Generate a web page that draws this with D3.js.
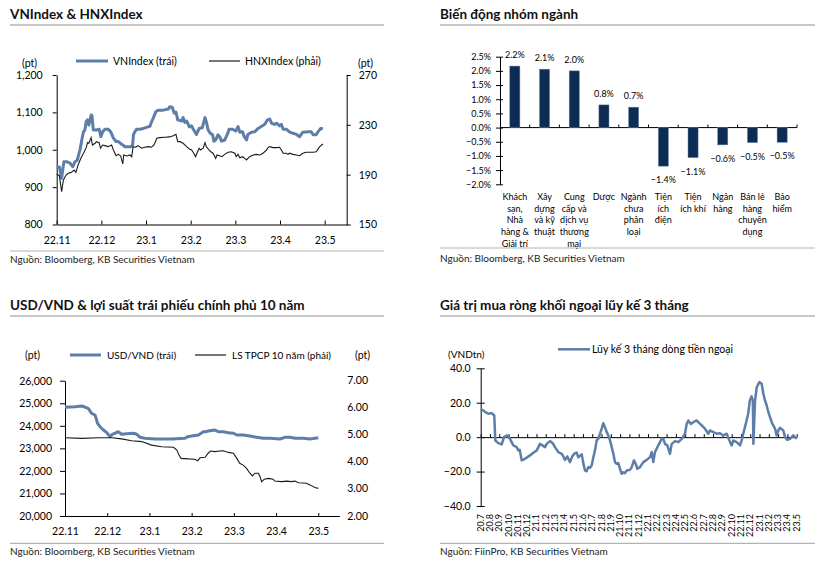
<!DOCTYPE html>
<html><head><meta charset="utf-8">
<script src="https://cdn.jsdelivr.net/npm/d3@7"></script>
<style>
body{margin:0;background:#fff;}
svg{display:block;font-family:Lato,"Liberation Sans",sans-serif;}
</style></head><body>
<svg id="c" width="815" height="562"></svg>
<script>
// ---------- DATA ----------
// Panel 1: VNIndex & HNXIndex (t = months since 22.11)
const p1Months = ["22.11","22.12","23.1","23.2","23.3","23.4","23.5"];
const vnT = [0.00,0.06,0.11,0.16,0.22,0.30,0.36,0.41,0.46,0.52,0.57,0.60,0.63,0.66,0.69,0.72,0.77,0.79,0.82,0.89,0.95,0.99,1.03,1.08,1.15,1.21,1.27,1.33,1.38,1.43,1.48,1.53,1.60,1.66,1.70,1.72,1.75,1.79,1.86,1.94,2.01,2.09,2.12,2.16,2.22,2.27,2.38,2.50,2.53,2.59,2.63,2.67,2.71,2.80,2.83,2.87,2.91,2.97,3.02,3.05,3.13,3.19,3.26,3.32,3.35,3.39,3.44,3.49,3.52,3.56,3.61,3.65,3.69,3.76,3.82,3.86,3.94,4.01,4.06,4.10,4.16,4.20,4.25,4.28,4.36,4.43,4.51,4.58,4.66,4.72,4.77,4.81,4.88,4.93,4.99,5.03,5.07,5.14,5.21,5.29,5.37,5.44,5.51,5.63,5.70,5.74,5.81,5.85,5.91,5.96];
const vnV = [954,954,924,968,968,964,955,968,972,999,1031,1048,1052,1075,1080,1066,1093,1091,1053,1053,1055,1035,1048,1055,1055,1048,1031,1022,1022,1017,1013,1008,1008,1008,1013,1041,1048,1055,1055,1057,1060,1063,1074,1084,1102,1106,1106,1109,1115,1113,1098,1101,1080,1077,1086,1073,1077,1061,1064,1057,1041,1057,1059,1086,1075,1053,1044,1040,1023,1026,1040,1035,1023,1026,1041,1055,1055,1050,1062,1047,1048,1035,1026,1041,1047,1048,1057,1062,1068,1080,1082,1071,1068,1071,1064,1068,1055,1055,1048,1044,1041,1035,1047,1048,1048,1040,1040,1048,1057,1056];
const hnxT = [0.00,0.06,0.11,0.15,0.21,0.26,0.33,0.39,0.43,0.48,0.54,0.60,0.66,0.69,0.72,0.77,0.80,0.86,0.89,0.95,0.98,1.03,1.08,1.15,1.23,1.27,1.33,1.38,1.43,1.48,1.50,1.57,1.64,1.68,1.71,1.77,1.82,1.90,1.97,2.05,2.12,2.18,2.24,2.31,2.42,2.53,2.61,2.67,2.71,2.76,2.83,2.91,2.97,3.02,3.07,3.11,3.14,3.19,3.22,3.28,3.32,3.35,3.41,3.45,3.50,3.56,3.59,3.65,3.70,3.76,3.84,3.91,3.99,4.02,4.06,4.10,4.16,4.21,4.25,4.32,4.40,4.47,4.55,4.62,4.70,4.73,4.77,4.84,4.92,4.99,5.03,5.07,5.14,5.18,5.21,5.29,5.37,5.44,5.51,5.59,5.66,5.74,5.81,5.89,5.96];
const hnxV = [190.3,189.2,176.3,185.7,189.7,191.1,191.9,193.7,191.9,197.8,203.1,207.2,211.7,215.7,215.2,219.7,213.8,215.2,216.5,215.7,211.2,213.8,213.3,212.5,213.8,209.8,205.2,206.3,205.2,198.6,205.8,205,205.8,204.4,212.5,212,213.3,211.2,212,212.5,212,213.8,219.2,219.7,220,220.3,221.3,222.4,216.5,216.5,215.2,212.5,210.6,209.8,207.2,204.4,207.2,211.2,209.8,211.2,215.7,212.5,209.8,208.4,207.2,203.1,205.8,205.2,204.4,206.3,208,208.4,207.2,204.4,206.3,203.6,204.4,203.1,201.8,204.4,205.8,206.3,205.8,207.2,209.8,211.7,212.5,211.7,211.7,212,209.8,207.2,207.2,206.3,207.2,206.3,205.8,205.2,207.2,208,208,208,208.4,212.5,214.6];
const vnTicks = [800,900,1000,1100,1200];
const hnxTicks = [150,190,230,270];

// Panel 2: sector performance
const sectors = [
  ["Khách","sạn,","Nhà","hàng &","Giải trí"],
  ["Xây","dựng","và kỹ","thuật"],
  ["Cung","cấp và","dịch vụ","thương","mại"],
  ["Dược"],
  ["Ngành","chưa","phân","loại"],
  ["Tiện","ích","điện"],
  ["Tiện","ích khí"],
  ["Ngân","hàng"],
  ["Bán lẻ","hàng","chuyên","dụng"],
  ["Bảo","hiểm"]
];
const sectorChange = [2.17,2.06,2.0,0.8,0.72,-1.36,-1.06,-0.61,-0.53,-0.52];
const sectorTicks = [-2.0,-1.5,-1.0,-0.5,0,0.5,1.0,1.5,2.0,2.5];

// Panel 3: USD/VND & 10Y gov bond yield
const p3Months = ["22.11","22.12","23.1","23.2","23.3","23.4","23.5"];
const usdT = [0.00,0.24,0.40,0.55,0.63,0.71,0.75,0.77,0.83,0.91,0.99,1.07,1.12,1.18,1.26,1.34,1.46,1.62,1.70,1.78,1.89,2.13,2.53,2.84,2.91,3.00,3.16,3.28,3.32,3.43,3.55,3.63,3.75,3.87,3.99,4.07,4.22,4.38,4.54,4.70,4.86,5.09,5.21,5.33,5.45,5.64,5.80,5.92,6.00];
const usdV = [24821,24848,24878,24776,24554,24480,24257,24111,23960,23814,23695,23517,23623,23668,23739,23623,23650,23668,23623,23490,23446,23415,23415,23446,23517,23550,23592,23739,23739,23783,23814,23739,23739,23695,23668,23592,23592,23548,23490,23446,23446,23415,23490,23490,23446,23446,23415,23446,23470];
const bondT = [0.00,0.40,0.79,1.11,1.34,1.58,1.82,2.05,2.29,2.57,2.65,2.70,2.75,2.92,3.08,3.14,3.20,3.32,3.39,3.45,3.55,3.67,3.75,3.87,3.99,4.07,4.14,4.22,4.30,4.38,4.44,4.50,4.58,4.62,4.66,4.72,4.82,4.93,4.97,5.13,5.25,5.37,5.45,5.53,5.72,5.80,5.92,6.00];
const bondV = [4.89,4.87,4.89,4.89,4.85,4.78,4.75,4.62,4.56,4.54,4.44,4.25,4.13,4.11,4.10,4.04,4.15,4.17,4.32,4.40,4.38,4.40,4.41,4.35,4.32,4.13,3.95,3.88,3.76,3.58,3.48,3.58,3.58,3.45,3.27,3.36,3.39,3.36,3.29,3.27,3.29,3.27,3.29,3.23,3.21,3.15,3.05,3.02];
const usdTicks = [20000,21000,22000,23000,24000,25000,26000];
const bondTicks = [2,3,4,5,6,7];

// Panel 4: 3-month cumulative foreign net buying (t = months since 20.7)
const p4Months = ["20.7","20.8","20.9","20.10","20.11","20.12","21.1","21.2","21.3","21.4","21.5","21.6","21.7","21.8","21.9","21.10","21.11","21.12","22.1","22.2","22.3","22.4","22.5","22.6","22.7","22.8","22.9","22.10","22.11","22.12","23.1","23.2","23.3","23.4","23.5"];
const flowT = [0.00,0.28,0.46,0.82,1.18,1.46,1.57,1.89,2.26,2.51,2.80,3.15,3.51,3.87,4.05,4.20,4.41,4.77,5.30,5.66,6.03,6.38,6.63,6.92,7.10,7.46,7.75,7.99,8.35,8.72,8.89,9.07,9.32,9.61,9.90,10.15,10.33,10.50,10.87,11.04,11.22,11.40,11.58,11.76,11.94,12.12,12.30,12.48,12.65,12.84,13.02,13.19,13.37,13.56,13.73,13.91,14.10,14.27,14.45,14.63,14.80,14.99,15.17,15.34,15.52,15.71,16.06,16.25,16.49,16.68,16.85,17.14,17.50,17.86,18.22,18.40,18.57,18.75,19.11,19.47,19.65,19.83,20.08,20.37,20.55,20.91,21.26,21.63,21.98,22.16,22.34,22.60,22.88,23.24,23.41,23.78,24.13,24.49,24.67,25.03,25.39,25.75,26.11,26.47,26.83,27.01,27.18,27.54,27.90,28.08,28.25,28.43,28.61,28.78,28.96,29.14,29.28,29.34,29.52,29.70,29.98,30.23,30.41,30.59,30.77,30.95,31.13,31.31,31.48,31.67,31.85,32.02,32.20,32.56,32.74,32.99,33.28,33.64,34.00];
const flowV = [16.5,15.5,14.7,13.6,14.0,12.6,-1.9,-3.5,-4.2,0,1,-1,-4.8,-5.8,-7.7,-7.4,-13.5,-12.6,-10.6,-9.1,-7.7,-3.9,-4.8,-5.8,-3.9,-2.3,-3.5,-5.8,-8.7,-9.7,-11.2,-13.2,-11.2,-14.5,-10.7,-9.3,-9.0,-11.7,-10.0,-15.1,-19.4,-19.8,-17.4,-17.8,-16.5,-11.7,-7.7,-1.9,-1,2,4.9,8.1,5.8,2.9,1,-1.9,-5.8,-9.7,-14.5,-15.5,-15.1,-18.4,-21.3,-20.4,-20.9,-19.4,-19,-17.4,-13.5,-15.5,-18.4,-17.4,-14.5,-13.2,-11.6,-8.7,-14.5,-8.7,-4.8,-1,-1,-3.9,-4.8,-9.7,-3.9,-2.3,-2.9,-1,2,7.7,9.7,7.7,8.7,9.7,8.7,6.8,4.9,2,3.9,2.9,2,2.3,1,2,-2.9,-4.8,-1.9,-2.9,-4.8,-1.9,2,5.8,9.7,13.6,21.3,23.7,21.3,-3.9,21.3,29,32,31,25.2,21.3,18.4,14.5,11.6,8.7,6.8,4.9,1,3.9,5.4,3.9,0,-1.6,-1,1,-1];
const flowTicks = [-40,-20,0,20,40];

// ---------- DRAWING ----------
const svg = d3.select("#c");
const blue = "#5d7ea8", dark = "#1a1a1a", navy = "#0c2c54";
const grey = "#b3b3b3";

function frame(x0, x1, titleY, lineY, title, srcLineY, srcY, src) {
  svg.append("text").attr("x", x0).attr("y", titleY).text(title)
    .attr("font-size", 13.5).attr("font-weight", 700).attr("fill", "#111");
  svg.append("line").attr("x1", x0).attr("x2", x1).attr("y1", lineY).attr("y2", lineY)
    .attr("stroke", grey).attr("stroke-width", 1.5);
  svg.append("line").attr("x1", x0).attr("x2", x1).attr("y1", srcLineY).attr("y2", srcLineY)
    .attr("stroke", grey).attr("stroke-width", 1.2);
  svg.append("text").attr("x", x0).attr("y", srcY).text(src)
    .attr("font-size", 10).attr("fill", "#222");
}
function styleAxis(g, fs) {
  g.selectAll("path,line").attr("stroke", "#000").attr("stroke-width", 1);
  g.selectAll("text").attr("font-size", fs).attr("fill", "#000").attr("font-family", "Lato,'Liberation Sans',sans-serif");
}
function txt(x, y, s, fs, anchor) {
  return svg.append("text").attr("x", x).attr("y", y).text(s)
    .attr("font-size", fs).attr("fill", "#000").attr("text-anchor", anchor || "start");
}
function legendLine(x1, x2, y, color, w) {
  svg.append("line").attr("x1", x1).attr("x2", x2).attr("y1", y).attr("y2", y)
    .attr("stroke", color).attr("stroke-width", w);
}

// ===== Panel 1 =====
frame(10, 384, 18.5, 25, "VNIndex & HNXIndex", 251, 263, "Nguồn: Bloomberg, KB Securities Vietnam");
{
  const x = d3.scaleLinear().domain([0, 6.5]).range([56.7, 347]);
  const yL = d3.scaleLinear().domain([800, 1200]).range([224.5, 75]);
  const yR = d3.scaleLinear().domain([150, 270]).range([224.5, 75]);
  const gL = svg.append("g").attr("transform", "translate(56.7,0)")
    .call(d3.axisLeft(yL).tickValues(vnTicks).tickFormat(d3.format(",")).tickSize(4).tickPadding(10).tickSizeOuter(0));
  styleAxis(gL, 10.5);
  const gR = svg.append("g").attr("transform", "translate(346.7,0)")
    .call(d3.axisRight(yR).tickValues(hnxTicks).tickSize(4).tickPadding(8).tickSizeOuter(0));
  styleAxis(gR, 10.5);
  const gB = svg.append("g").attr("transform", "translate(0,224.5)")
    .call(d3.axisBottom(x).tickValues(d3.range(0, 7)).tickFormat((d, i) => p1Months[i]).tickSizeInner(-4).tickSizeOuter(0).tickPadding(12));
  styleAxis(gB, 10.5);

  svg.append("path").datum(d3.zip(vnT, vnV))
    .attr("d", d3.line().x(d => x(d[0])).y(d => yL(d[1])))
    .attr("fill", "none").attr("stroke", blue).attr("stroke-width", 3).attr("stroke-linejoin", "round");
  svg.append("path").datum(d3.zip(hnxT, hnxV))
    .attr("d", d3.line().x(d => x(d[0])).y(d => yR(d[1])))
    .attr("fill", "none").attr("stroke", dark).attr("stroke-width", 1.1);

  legendLine(76, 108, 61, blue, 3);
  txt(113, 64.5, "VNIndex (trái)", 10.5);
  legendLine(209, 240, 61, dark, 1.2);
  txt(245, 64.5, "HNXIndex (phải)", 10.5);
  txt(22, 67, "(pt)", 10.5);
  txt(358, 67, "(pt)", 10.5);
}

// ===== Panel 2 =====
frame(440, 815, 18.5, 25, "Biến động nhóm ngành", 248, 262, "Nguồn: Bloomberg, KB Securities Vietnam");
{
  const idx = d3.range(sectors.length);
  const xb = d3.scaleBand().domain(idx).range([500, 797]).padding(0);
  const xBar = d3.scaleBand().domain(idx).range([500, 797]).paddingInner(0.66).paddingOuter(0.33);
  const y = d3.scaleLinear().domain([-2, 2.5]).range([184.3, 56.7]);
  const gL = svg.append("g").attr("transform", "translate(500,0)")
    .call(d3.axisLeft(y).tickValues(sectorTicks).tickFormat(d => d3.format(".1%")(d / 100)).tickSize(4).tickPadding(5).tickSizeOuter(0));
  styleAxis(gL, 9);
  gL.selectAll(".tick line").attr("x2", 3).attr("x1", -4);
  // category axis at zero
  svg.append("line").attr("x1", 500).attr("x2", 797).attr("y1", y(0)).attr("y2", y(0)).attr("stroke", "#000");
  svg.selectAll(".ctick").data(idx).join("line")
    .attr("x1", d => xb(d) + xb.bandwidth()).attr("x2", d => xb(d) + xb.bandwidth())
    .attr("y1", y(0) - 3).attr("y2", y(0)).attr("stroke", "#000");
  svg.selectAll(".bar").data(idx).join("rect")
    .attr("x", d => xBar(d)).attr("width", xBar.bandwidth())
    .attr("y", d => y(Math.max(0, sectorChange[d])))
    .attr("height", d => Math.abs(y(sectorChange[d]) - y(0)))
    .attr("fill", navy).attr("stroke", "#6f86a3").attr("stroke-width", 0.5);
  svg.selectAll(".vlab").data(idx).join("text")
    .attr("x", d => xb(d) + xb.bandwidth() / 2)
    .attr("y", d => sectorChange[d] >= 0 ? y(sectorChange[d]) - 8 : y(sectorChange[d]) + 17)
    .attr("text-anchor", "middle").attr("font-size", 9).attr("fill", "#000")
    .text(d => d3.format(".1f")(sectorChange[d]) + "%");
  idx.forEach(i => {
    sectors[i].forEach((line, j) => {
      txt(xb(i) + xb.bandwidth() / 2, 200 + j * 11.7, line, 9, "middle");
    });
  });
}

// ===== Panel 3 =====
frame(10, 384, 310, 316, "USD/VND & lợi suất trái phiếu chính phủ 10 năm", 543.3, 555, "Nguồn: Bloomberg, KB Securities Vietnam");
{
  const x = d3.scaleLinear().domain([0, 6.5]).range([65, 339.4]);
  const yL = d3.scaleLinear().domain([20000, 26000]).range([516, 380.7]);
  const yR = d3.scaleLinear().domain([2, 7]).range([516, 380.7]);
  const gL = svg.append("g").attr("transform", "translate(65,0)")
    .call(d3.axisLeft(yL).tickValues(usdTicks).tickFormat(d3.format(",")).tickSize(5).tickPadding(8).tickSizeOuter(0));
  styleAxis(gL, 10.5);
  bondTicks.forEach(v => txt(368, yR(v) + 3.5, d3.format(".2f")(v), 10.5, "end"));
  const gB = svg.append("g").attr("transform", "translate(0,516)")
    .call(d3.axisBottom(x).tickValues(d3.range(0, 7)).tickFormat((d, i) => p3Months[i]).tickSizeInner(-3).tickSizeOuter(0).tickPadding(12));
  styleAxis(gB, 10.5);

  svg.append("path").datum(d3.zip(usdT, usdV))
    .attr("d", d3.line().x(d => x(d[0])).y(d => yL(d[1])))
    .attr("fill", "none").attr("stroke", blue).attr("stroke-width", 3).attr("stroke-linejoin", "round");
  svg.append("path").datum(d3.zip(bondT, bondV))
    .attr("d", d3.line().x(d => x(d[0])).y(d => yR(d[1])))
    .attr("fill", "none").attr("stroke", dark).attr("stroke-width", 1.1);

  legendLine(70, 101, 355, blue, 3);
  txt(107, 358.5, "USD/VND (trái)", 10);
  legendLine(195, 226, 355, dark, 1.2);
  txt(232, 358.5, "LS TPCP 10 năm (phải)", 10);
  txt(25, 358.5, "(pt)", 10.5);
  txt(355, 358.5, "(pt)", 10.5);
}

// ===== Panel 4 =====
frame(440, 815, 310, 316, "Giá trị mua ròng khối ngoại lũy kế 3 tháng", 543.3, 555, "Nguồn: FiinPro, KB Securities Vietnam");
{
  const x = d3.scaleLinear().domain([0, 34]).range([480.7, 796.7]);
  const y = d3.scaleLinear().domain([-40, 40]).range([506, 368.3]);
  const gL = svg.append("g").attr("transform", "translate(480.7,0)")
    .call(d3.axisLeft(y).tickValues(flowTicks).tickFormat(d3.format(".1f")).tickSize(4).tickPadding(6).tickSizeOuter(0));
  styleAxis(gL, 10.5);
  gL.selectAll(".tick line").attr("x1", -4).attr("x2", 4);
  const gB = svg.append("g").attr("transform", `translate(0,${y(0)})`)
    .call(d3.axisBottom(x).tickValues(d3.range(0, 35)).tickFormat("").tickSizeInner(-3).tickSizeOuter(0));
  styleAxis(gB, 9);
  svg.selectAll(".mlab").data(p4Months).join("text")
    .attr("transform", (d, i) => `translate(${x(i) + 3},514) rotate(-90)`)
    .attr("text-anchor", "end").attr("font-size", 9).attr("fill", "#000")
    .text(d => d);

  svg.append("path").datum(d3.zip(flowT, flowV))
    .attr("d", d3.line().x(d => x(d[0])).y(d => y(d[1])))
    .attr("fill", "none").attr("stroke", blue).attr("stroke-width", 2.5).attr("stroke-linejoin", "round");

  legendLine(558, 590, 349.3, blue, 2.5);
  txt(592, 353, "Lũy kế 3 tháng dòng tiền ngoại", 10.5);
  txt(448, 357.5, "(VNDtn)", 10);
}
</script></body></html>
